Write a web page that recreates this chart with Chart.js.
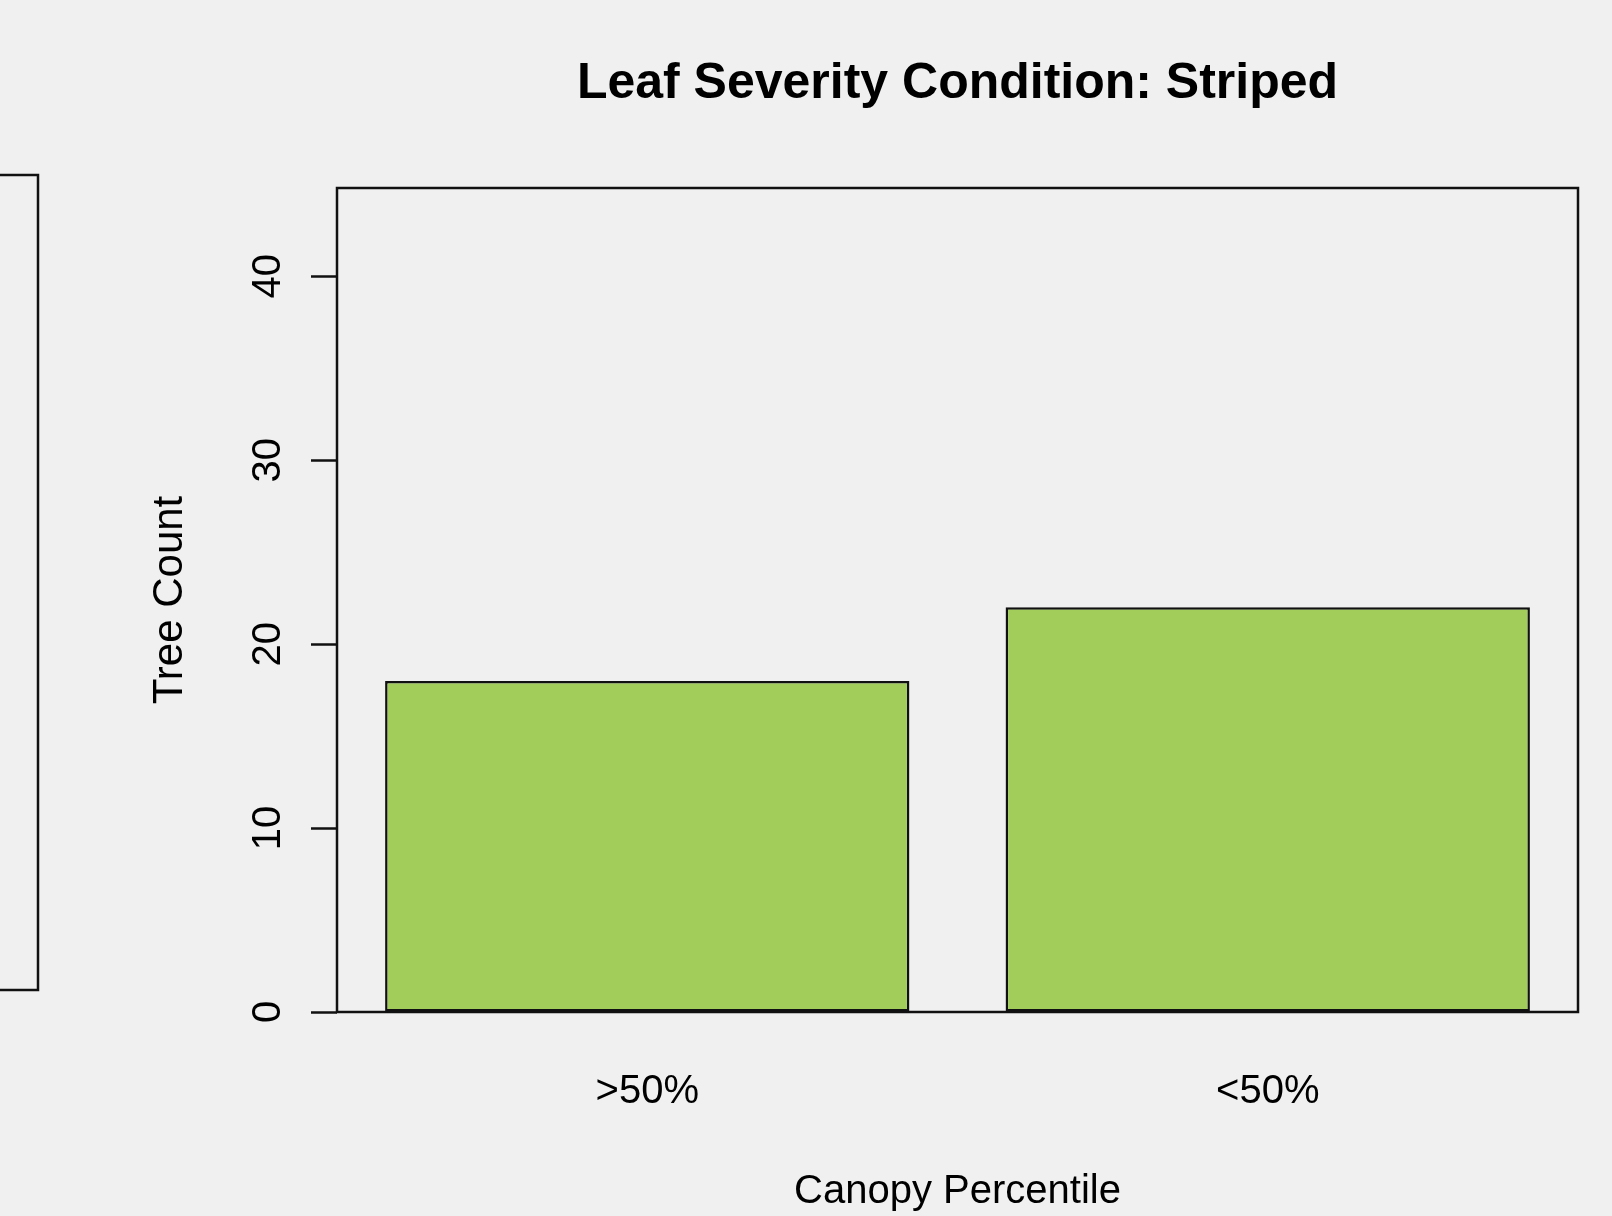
<!DOCTYPE html>
<html>
<head>
<meta charset="utf-8">
<script src="https://cdn.jsdelivr.net/npm/chart.js@4"></script>
<style>
  html, body { margin: 0; padding: 0; background: #f0f0f0; }
  #wrap { width: 1612px; height: 1216px; position: relative; }
</style>
</head>
<body>
<div id="wrap"><canvas id="chart" width="1612" height="1216"></canvas></div>
<script>
const categories = ['>50%', '<50%'];
const treeCounts = [18, 22];
const yTicks = [0, 10, 20, 30, 40];
const chartTitle = 'Leaf Severity Condition: Striped';
const xTitle = 'Canopy Percentile';
const yTitle = 'Tree Count';

const FONT = '"Liberation Sans", Arial, Helvetica, sans-serif';

// frame around the plot region, plus the edge of the neighbouring panel
const framePlugin = {
    id: 'frame',
    afterDraw(chart) {
        const { ctx, chartArea: a } = chart;
        ctx.save();
        ctx.strokeStyle = '#111';
        ctx.lineWidth = 2.5;
        ctx.strokeRect(a.left, a.top, a.right - a.left, a.bottom - a.top);
        ctx.strokeRect(-10, 175, 48, 815);
        ctx.fillStyle = '#000';
        ctx.font = 'bold 50px ' + FONT;
        ctx.textAlign = 'center';
        ctx.textBaseline = 'middle';
        ctx.fillText(chartTitle, (a.left + a.right) / 2, 84);
        ctx.restore();
    }
};

new Chart(document.getElementById('chart'), {
    type: 'bar',
    data: {
        labels: categories,
        datasets: [{
            label: yTitle,
            data: treeCounts,
            backgroundColor: '#a2cd5a',
            borderColor: '#111',
            borderWidth: 2.5,
            borderSkipped: false,
            categoryPercentage: 1,
            barPercentage: 0.845
        }]
    },
    options: {
        responsive: false,
        animation: false,
        layout: { padding: { top: 188, right: 34, left: 0, bottom: 0 } },
        plugins: {
            legend: { display: false },
            title: { display: false },
            tooltip: { enabled: false }
        },
        scales: {
            x: {
                grid: { display: false },
                border: { display: false },
                ticks: { color: '#000', font: { family: FONT, size: 40 }, padding: 48 },
                title: { display: true, text: xTitle, color: '#000', font: { family: FONT, size: 40 }, padding: 0 },
                afterFit(scale) { scale.height = 204; }
            },
            y: {
                min: 0,
                max: 44.8,
                afterBuildTicks(scale) { scale.ticks = yTicks.map(v => ({ value: v })); },
                grid: { drawOnChartArea: false, tickLength: 26, tickColor: '#111', tickWidth: 2.5 },
                border: { display: false },
                ticks: {
                    color: '#000',
                    font: { family: FONT, size: 40 },
                    minRotation: 90,
                    maxRotation: 90,
                    crossAlign: 'center',
                    padding: 20
                },
                title: { display: true, text: yTitle, color: '#000', font: { family: FONT, size: 42 }, padding: { top: 145 } },
                afterFit(scale) { scale.width = 337; }
            }
        }
    },
    plugins: [framePlugin]
});
</script>
</body>
</html>
